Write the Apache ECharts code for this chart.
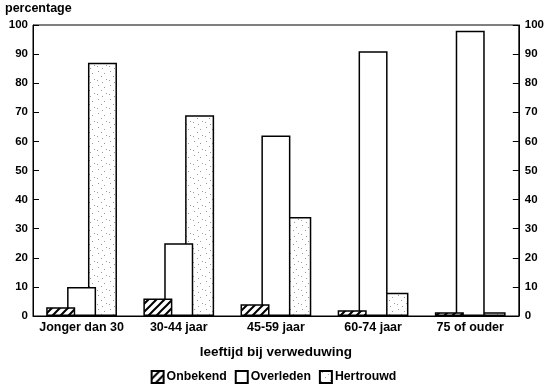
<!DOCTYPE html>
<html>
<head>
<meta charset="utf-8">
<script src="https://cdn.jsdelivr.net/npm/echarts@6/dist/echarts.min.js"></script>
<style>
html,body{margin:0;padding:0;background:#fff;}
#c{width:547px;height:388px;}
</style>
</head>
<body>
<div id="c"></div>
<script>
const categories = ['Jonger dan 30', '30-44 jaar', '45-59 jaar', '60-74 jaar', '75 of ouder'];
const onbekend = [3, 6, 4, 2, 1.3];
const overleden = [10, 25, 62, 91, 98];
const hertrouwd = [87, 69, 34, 8, 1.3];
const yTicks = [0, 10, 20, 30, 40, 50, 60, 70, 80, 90, 100];

function hatchPattern() {
  const c = document.createElement('canvas');
  c.width = 8; c.height = 8;
  const g = c.getContext('2d');
  g.fillStyle = '#fff'; g.fillRect(0, 0, 8, 8);
  g.strokeStyle = '#000'; g.lineWidth = 2;
  g.beginPath();
  g.moveTo(-1, 9); g.lineTo(9, -1);
  g.moveTo(-9, 9); g.lineTo(1, -1);
  g.moveTo(7, 9); g.lineTo(17, -1);
  g.stroke();
  return c;
}
function stipplePattern() {
  const c = document.createElement('canvas');
  c.width = 12; c.height = 14;
  const g = c.getContext('2d');
  g.fillStyle = '#fff'; g.fillRect(0, 0, 12, 14);
  g.fillStyle = '#9a9a9a';
  const dots = [[2,1],[8,3],[5,6],[10,9],[1,10],[6,12]];
  dots.forEach(d => g.fillRect(d[0], d[1], 1, 1));
  return c;
}

const font = '"Liberation Sans", Arial, sans-serif';
const yLabelStyle = { color: '#000', fontWeight: 'bold', fontSize: 11.5, fontFamily: font };
const xLabelStyle = { color: '#000', fontWeight: 'bold', fontSize: 12.5, fontFamily: font };

const chart = echarts.init(document.getElementById('c'), null, { renderer: 'canvas' });
chart.setOption({
  animation: false,
  backgroundColor: '#fff',
  textStyle: { fontFamily: font },
  grid: { left: 33, right: 26, top: 25, bottom: 72, show: true, borderColor: '#000', borderWidth: 1, backgroundColor: 'transparent' },
  graphic: [{
    type: 'text', left: 5, top: 2,
    style: { text: 'percentage', font: 'bold 12.5px ' + font, fill: '#000' }
  }],
  legend: {
    bottom: 4, left: 'center', padding: 0,
    itemWidth: 12, itemHeight: 12, itemGap: 8,
    icon: 'rect',
    textStyle: { color: '#000', fontWeight: 'bold', fontSize: 12.3, fontFamily: font, padding: [0, 0, 0, -2] },
    data: ['Onbekend', 'Overleden', 'Hertrouwd']
  },
  xAxis: {
    type: 'category',
    data: categories,
    name: 'leeftijd bij verweduwing',
    nameLocation: 'middle',
    nameGap: 29,
    nameTextStyle: { color: '#000', fontWeight: 'bold', fontSize: 13.5, fontFamily: font },
    axisLine: { lineStyle: { color: '#000', width: 1 } },
    axisTick: { show: false },
    axisLabel: Object.assign({ margin: 5, interval: 0, hideOverlap: false }, xLabelStyle)
  },
  yAxis: [{
    type: 'value', min: 0, max: 100, interval: 10, position: 'left',
    axisLine: { show: true, lineStyle: { color: '#000' } },
    axisTick: { show: true, inside: true, length: 6, lineStyle: { color: '#000' } },
    axisLabel: Object.assign({ margin: 5, formatter: v => yTicks.includes(v) ? String(v) : '' }, yLabelStyle),
    splitLine: { show: false }
  }, {
    type: 'value', min: 0, max: 100, interval: 10, position: 'right',
    axisLine: { show: true, lineStyle: { color: '#000' } },
    axisTick: { show: true, inside: true, length: 6, lineStyle: { color: '#000' } },
    axisLabel: Object.assign({ margin: 6, formatter: v => yTicks.includes(v) ? String(v) : '' }, yLabelStyle),
    splitLine: { show: false }
  }],
  series: [{
    name: 'Onbekend', type: 'bar', data: onbekend, z: 4,
    barWidth: 29, barGap: '-28%',
    itemStyle: { color: { image: hatchPattern(), repeat: 'repeat' }, borderColor: '#000', borderWidth: 1.5 }
  }, {
    name: 'Overleden', type: 'bar', data: overleden, z: 3,
    barWidth: 29, barGap: '-28%',
    itemStyle: { color: '#fff', borderColor: '#000', borderWidth: 1.5 }
  }, {
    name: 'Hertrouwd', type: 'bar', data: hertrouwd, z: 2,
    barWidth: 29, barGap: '-28%',
    itemStyle: { color: { image: stipplePattern(), repeat: 'repeat' }, borderColor: '#000', borderWidth: 1.5 }
  }]
});
</script>
</body>
</html>
